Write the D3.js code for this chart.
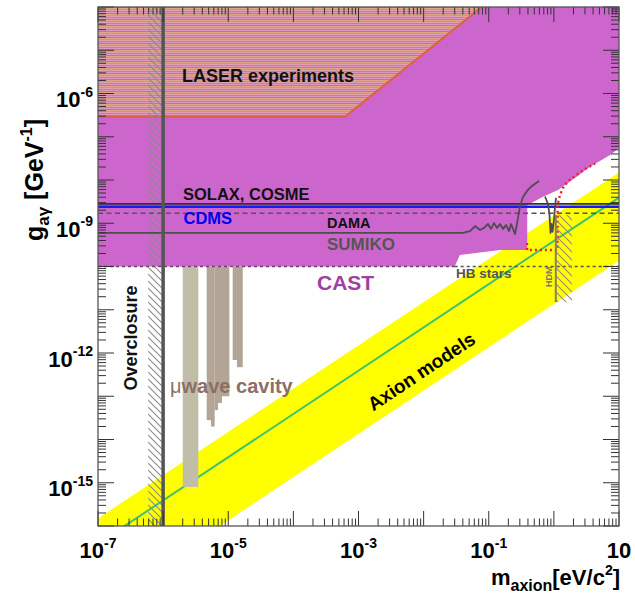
<!DOCTYPE html>
<html><head><meta charset="utf-8">
<script src="https://cdn.jsdelivr.net/npm/d3@7"></script>
<style>
html,body{margin:0;padding:0;background:#fff}
svg{display:block}
text{font-family:"Liberation Sans",Arial,Helvetica,sans-serif;font-weight:bold}
</style>
</head><body>
<svg id="c" width="635" height="598"></svg>
<script>
// ---------------- data ----------------
const massDomain = [1e-7, 10];          // eV
const couplingDomain = [1e-16, 1e-4];   // GeV^-1

const xLabelTicks = [1e-7, 1e-5, 1e-3, 1e-1, 10];
const xLabelExp   = ["-7", "-5", "-3", "-1", ""];
const yLabelTicks = [1e-6, 1e-9, 1e-12, 1e-15];
const yLabelExp   = ["-6", "-9", "-12", "-15"];

// Excluded region (CAST + helioscopes, purple)
const excludedRegion = [[1e-7,1e-4],[10,1e-4],[10,5.5e-8],[7.3,3.8e-8],[3.6,2.03e-8],[2.24,1.19e-8],
  [1.16,5.9e-9],[0.68,4.1e-9],[0.39,2.6e-9],[0.39,2.4e-10],[0.149,2.4e-10],[0.036,1.85e-10],
  [0.030,1.0e-10],[1e-7,1.0e-10]];
// LASER experiments
const laserRegion = [[1e-7,1e-4],[0.078,1e-4],[6.2e-4,2.9e-7],[1e-7,2.9e-7]];
const laserEdge   = [[1e-7,2.9e-7],[6.2e-4,2.9e-7],[0.078,1e-4]];
// Axion models band and KSVZ line
const axionBandUpper = [[1e-7,1.5e-16],[10,1.5e-8]];
const axionBandLower = [[1e-7,1.35e-18],[10,1.35e-10]];
const ksvzLine       = [[1e-7,3.9e-17],[10,3.9e-9]];
// Horizontal limits
const solaxLimit = 2.8e-9;
const cdmsLimit  = 2.4e-9;
const damaLimit  = 1.7e-9;
const castLimit  = 1.0e-10;
const castEndMass = 0.030;
// SUMIKO
const sumikoLow = [[1e-7,6e-10],[0.040,6e-10],[0.0515,6.6e-10],[0.0615,8.6e-10],[0.0734,7.0e-10],
  [0.0846,7.8e-10],[0.0975,9.6e-10],[0.108,7.4e-10],[0.120,1.01e-9],[0.134,7.8e-10],[0.149,9.6e-10],
  [0.166,7.4e-10],[0.184,9.1e-10],[0.205,6.6e-10],[0.220,9.6e-10],[0.236,7.4e-10],[0.253,5.6e-10],
  [0.267,8.6e-10],[0.281,1.32e-9],[0.302,2.5e-9],[0.336,4.05e-9],[0.387,5.6e-9],[0.461,7.3e-9],[0.590,9.5e-9]];
const sumikoHigh = [[0.731,4.15e-9],[0.813,2.79e-9],[0.857,1.55e-9],[0.888,6.0e-10],[0.920,9.6e-10],
  [0.953,6.3e-10],[1.005,1.19e-9],[1.04,2.38e-9],[1.08,3.84e-9]];
// CAST phase II (red dotted)
const castPhase2 = [[0.387,3.5e-10],[0.387,2.4e-10],[1.14,2.4e-10],[1.14,2.64e-9],[1.24,4.5e-9],
  [1.38,6.5e-9],[1.65,9.5e-9],[2.11,1.24e-8],[3.0,1.8e-8],[4.3,2.4e-8]];
// Overclosure
const overclosureMass = 1e-6;
const overclosureFrom = 5.9e-7;
// HDM
const hdmMass = 1.07;
const hdmHatchTo = 1.9;
const hdmCoupling = [1.5e-11, 1.55e-9];
// Microwave cavity: [mass from, mass to, lowest coupling]
const cavityBarsA = [[2.0e-6,3.47e-6,8e-16]];
const cavityBarsB = [[4.67e-6,5.43e-6,2.8e-14],[5.43e-6,6.19e-6,2.0e-14],[6.19e-6,6.97e-6,4.8e-14],
  [6.97e-6,8.02e-6,7.0e-14],[8.02e-6,1.04e-5,1.0e-13],[1.17e-5,1.36e-5,6.9e-13],[1.36e-5,1.67e-5,4.7e-13]];

// ---------------- drawing ----------------
const svg = d3.select("#c");
const X0=98, X1=619, Y0=7, Y1=526;
const x = d3.scaleLog().domain(massDomain).range([X0,X1]);
const y = d3.scaleLog().domain(couplingDomain).range([Y1,Y0]);
const line = d3.line().x(d=>x(d[0])).y(d=>y(d[1]));

const defs = svg.append("defs");
defs.append("clipPath").attr("id","pc").append("rect")
  .attr("x",X0).attr("y",Y0).attr("width",X1-X0).attr("height",Y1-Y0);
const lp = defs.append("pattern").attr("id","laserPat").attr("patternUnits","userSpaceOnUse")
  .attr("width",8).attr("height",6);
[["#de96c6",0],["#cc66cc",1],["#dca87e",2],["#d884c8",3],["#e2a0ae",4],["#cf70cc",5]].forEach(r=>{
  lp.append("rect").attr("x",0).attr("y",r[1]).attr("width",8).attr("height",1).attr("fill",r[0]);
});
function hatch(id, s, col, w){
  const p = defs.append("pattern").attr("id",id).attr("patternUnits","userSpaceOnUse")
    .attr("width",s).attr("height",s);
  p.append("path").attr("d",`M-1,-1L${s+1},${s+1}M-1,${s-1}L1,${s+1}M${s-1},-1L${s+1},1`)
    .attr("stroke",col).attr("stroke-width",w).attr("fill","none");
}
hatch("hatchGray",7,"#8a8a8a",1.1);
hatch("hatchHdm",8,"#a08a70",1.1);

const g = svg.append("g").attr("clip-path","url(#pc)");

// axion band
g.append("path").attr("d", line(axionBandUpper.concat(axionBandLower.slice().reverse()))+"Z")
  .attr("fill","#ffff00");
g.append("path").attr("d", line(ksvzLine)).attr("fill","none")
  .attr("stroke","#3cc46e").attr("stroke-width",2);

// cavity bars
function bars(data, col){
  g.selectAll(null).data(data).enter().append("rect")
    .attr("x",d=>x(d[0])).attr("width",d=>x(d[1])-x(d[0]))
    .attr("y",y(castLimit)).attr("height",d=>y(d[2])-y(castLimit))
    .attr("fill",col);
}
bars(cavityBarsA,"#c0bda9");
bars(cavityBarsB,"#b3a596");

// excluded region
g.append("path").attr("d", line(excludedRegion)+"Z").attr("fill","#cc66cc");
// laser
g.append("path").attr("d", line(laserRegion)+"Z").attr("fill","url(#laserPat)");
g.append("path").attr("d", line(laserEdge)).attr("fill","none")
  .attr("stroke","#e0603c").attr("stroke-width",2);

// overclosure hatch
g.append("rect").attr("x",x(overclosureFrom)).attr("width",x(overclosureMass)-x(overclosureFrom))
  .attr("y",Y0).attr("height",Y1-Y0).attr("fill","url(#hatchGray)");

// horizontal limits
function hline(gv, m0, m1, col, w, dash){
  const l = g.append("path").attr("d", line([[m0,gv],[m1,gv]])).attr("fill","none")
    .attr("stroke",col).attr("stroke-width",w);
  if (dash) l.attr("stroke-dasharray",dash);
}
hline(castLimit, massDomain[0], castEndMass, "#7a3a7a", 1.3, "3,3");
hline(castLimit, castEndMass, massDomain[1], "#555", 1.3, "3,3");
hline(damaLimit, massDomain[0], massDomain[1], "#555", 1.5, "5,3.5");
hline(cdmsLimit, massDomain[0], massDomain[1], "#1a1aff", 2.6);
hline(solaxLimit, massDomain[0], massDomain[1], "#333", 1.6);

// SUMIKO
[sumikoLow, sumikoHigh].forEach(d=>{
  g.append("path").attr("d", line(d)).attr("fill","none")
    .attr("stroke","#4d4d4d").attr("stroke-width",1.8).attr("stroke-linejoin","round");
});
// CAST phase II
g.append("path").attr("d", line(castPhase2)).attr("fill","none")
  .attr("stroke","#ff1a1a").attr("stroke-width",2.4).attr("stroke-dasharray","2,3");

// HDM
g.append("rect").attr("x",x(hdmMass)).attr("width",x(hdmHatchTo)-x(hdmMass))
  .attr("y",y(hdmCoupling[1])).attr("height",y(hdmCoupling[0])-y(hdmCoupling[1]))
  .attr("fill","url(#hatchHdm)");
g.append("path").attr("d", line([[hdmMass,hdmCoupling[0]],[hdmMass,hdmCoupling[1]]]))
  .attr("stroke","#8c7c6c").attr("stroke-width",2);

// overclosure line
g.append("path").attr("d", line([[overclosureMass,couplingDomain[0]],[overclosureMass,couplingDomain[1]]]))
  .attr("stroke","#555").attr("stroke-width",3.5);

// ---------------- axes ----------------
const isMajor = v => Math.abs(Math.log10(v) - Math.round(Math.log10(v))) < 1e-6;
const ax = svg.append("g").attr("stroke","#333").attr("stroke-width",1);
x.ticks().forEach(v=>{
  const L = isMajor(v)?15:7.5, xx = x(v);
  ax.append("line").attr("x1",xx).attr("x2",xx).attr("y1",Y1).attr("y2",Y1-L);
  ax.append("line").attr("x1",xx).attr("x2",xx).attr("y1",Y0).attr("y2",Y0+L);
});
y.ticks(20).forEach(v=>{
  const L = isMajor(v)?16:8, yy = y(v);
  ax.append("line").attr("y1",yy).attr("y2",yy).attr("x1",X0).attr("x2",X0+L);
  ax.append("line").attr("y1",yy).attr("y2",yy).attr("x1",X1).attr("x2",X1-L);
});
svg.append("rect").attr("x",X0).attr("y",Y0).attr("width",X1-X0).attr("height",Y1-Y0)
  .attr("fill","none").attr("stroke","#555").attr("stroke-width",1.3);

// tick labels
xLabelTicks.forEach((v,i)=>{
  const t = svg.append("text").attr("x",x(v)).attr("y",558).attr("text-anchor","middle")
    .attr("font-size",22).attr("fill","#000").text("10");
  if (xLabelExp[i]) t.append("tspan").attr("font-size",14).attr("dy",-10).text(xLabelExp[i]);
});
yLabelTicks.forEach((v,i)=>{
  const t = svg.append("text").attr("x",93).attr("y",y(v)+13.5).attr("text-anchor","end")
    .attr("font-size",22).attr("fill","#000").text("10");
  t.append("tspan").attr("font-size",14).attr("dy",-10.5).text(yLabelExp[i]);
});

// axis titles
const xt = svg.append("text").attr("x",620).attr("y",585).attr("text-anchor","end")
  .attr("font-size",22).attr("fill","#000").text("m");
xt.append("tspan").attr("font-size",16).attr("dy",6).text("axion");
xt.append("tspan").attr("dy",-6).text("[eV/c");
xt.append("tspan").attr("font-size",14).attr("dy",-10).text("2");
xt.append("tspan").attr("dy",10).text("]");

const yt = svg.append("text").attr("transform","translate(43,180) rotate(-90)")
  .attr("text-anchor","middle").attr("font-size",25).attr("fill","#000").text("g");
yt.append("tspan").attr("font-size",17).attr("dy",6).text("aγ");
yt.append("tspan").attr("dy",-6).text(" [GeV");
yt.append("tspan").attr("font-size",16).attr("dy",-11).text("-1");
yt.append("tspan").attr("dy",11).text("]");

// ---------------- labels ----------------
function label(t, xx, yy, size, col, anchor){
  return svg.append("text").attr("x",xx).attr("y",yy).attr("font-size",size)
    .attr("fill",col).attr("text-anchor",anchor||"start").text(t);
}
label("LASER experiments", 182, 82, 18, "#111");
label("SOLAX, COSME", 183, 199.5, 16.5, "#111");
label("CDMS", 183.5, 223.5, 16.5, "#0000ee");
label("DAMA", 327, 227.5, 14.5, "#111");
label("SUMIKO", 327, 249.5, 17, "#555");
label("CAST", 317, 289.5, 21, "#a040a0");
label("HB stars", 456, 277.5, 13.5, "#555");
svg.append("text").attr("transform","translate(551.7,276.7) rotate(-90)").attr("text-anchor","middle")
  .attr("font-size",9).attr("fill","#8a7560").text("HDM");
svg.append("text").attr("transform","translate(136.5,338) rotate(-90)").attr("text-anchor","middle")
  .attr("font-size",18).attr("fill","#111").text("Overclosure");
const mw = svg.append("text").attr("x",170).attr("y",393).attr("font-size",20).attr("fill","#8c7064");
mw.append("tspan").attr("font-weight","normal").text("μ");
mw.append("tspan").text("wave cavity");
svg.append("text").attr("transform","translate(425,377) rotate(-33.7)").attr("text-anchor","middle")
  .attr("font-size",19).attr("fill","#000").text("Axion models");
</script>
</body></html>
